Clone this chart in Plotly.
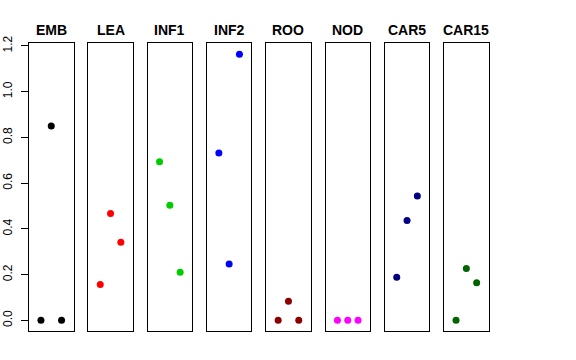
import plotly.graph_objects as go

panels = ["EMB", "LEA", "INF1", "INF2", "ROO", "NOD", "CAR5", "CAR15"]
colors = ["#000000", "#FF0000", "#00CD00", "#0000FF", "#8B0000", "#FF00FF", "#000080", "#006400"]
x_pos = [1, 2, 3]
values = [
    [0.0, 0.850, 0.0],
    [0.157, 0.467, 0.342],
    [0.694, 0.503, 0.210],
    [0.732, 0.246, 1.164],
    [0.0, 0.083, 0.0],
    [0.0, 0.0, 0.0],
    [0.188, 0.437, 0.544],
    [0.0, 0.227, 0.164],
]
y_ticks = [0.0, 0.2, 0.4, 0.6, 0.8, 1.0, 1.2]

W, H = 576, 360
left0, pw, step = 29.0, 44.5, 59.3
top_px, bot_px = 43.3, 331.0
ymin, ymax = -0.0466, 1.2116

fig = go.Figure()
layout = dict(
    template="none",
    width=W, height=H, margin=dict(l=0, r=0, t=0, b=0, autoexpand=False),
    plot_bgcolor="white", paper_bgcolor="white", showlegend=False,
    font=dict(family="Liberation Sans, Arial, sans-serif", color="black"),
)
annotations = []
for i, (name, col, vals) in enumerate(zip(panels, colors, values)):
    k = "" if i == 0 else str(i + 1)
    x0 = (left0 + i * step) / W
    x1 = (left0 + i * step + pw) / W
    fig.add_trace(go.Scatter(
        x=x_pos, y=vals, mode="markers",
        marker=dict(color=col, size=7, line=dict(width=0)),
        xaxis="x" + k, yaxis="y" + k, hoverinfo="skip",
    ))
    layout["xaxis" + k] = dict(
        domain=[x0, x1], range=[-0.16, 4.16], showgrid=False, zeroline=False,
        showticklabels=False, ticks="", showline=True, mirror=True,
        linecolor="black", linewidth=1, anchor="y" + k, fixedrange=True,
        automargin=False,
    )
    ya = dict(
        domain=[1 - bot_px / H, 1 - top_px / H], range=[ymin, ymax],
        showgrid=False, zeroline=False, showline=True, mirror=True,
        linecolor="black", linewidth=1, anchor="x" + k, fixedrange=True,
        automargin=False,
    )
    if i == 0:
        ya.update(
            tickvals=y_ticks, ticktext=[f"{v:.1f}" for v in y_ticks],
            ticks="outside", ticklen=7, tickcolor="black", tickwidth=1,
            tickangle=-90, tickfont=dict(size=12), ticklabelstandoff=4,
        )
    else:
        ya.update(showticklabels=False, ticks="")
    layout["yaxis" + k] = ya
    annotations.append(dict(
        text="<b>" + name + "</b>", x=(x0 + x1) / 2, y=1 - 30 / H,
        xref="paper", yref="paper", xanchor="center", yanchor="middle",
        showarrow=False, font=dict(size=14, color="black"),
    ))
layout["annotations"] = annotations
fig.update_layout(**layout)
fig.write_html(
    "out.html",
    config={"displayModeBar": False},
    post_script="document.body.style.margin='0';document.body.style.padding='0';",
)
